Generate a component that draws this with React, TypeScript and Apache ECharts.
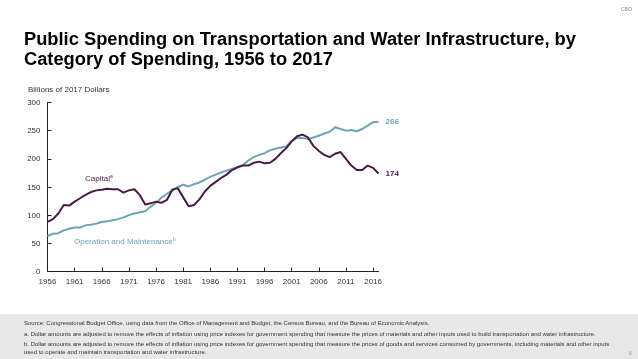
import React, { useEffect, useRef } from "react";
import * as echarts from "echarts";

const years: string[] = [];
for (let y = 1956; y <= 2017; y++) years.push(String(y));

const capital = [
  88, 93, 103, 118, 117, 124, 130, 136, 141, 144,
  145, 147, 146, 146, 140, 144, 146, 136, 119, 121,
  124, 122, 127, 145, 148, 132, 116, 118, 128, 142,
  152, 159, 166, 172, 180, 185, 188, 188, 193, 195,
  192, 193, 200, 210, 219, 231, 240, 243, 238, 223,
  214, 207, 203, 209, 212, 200, 188, 180, 180, 188,
  184, 174,
];

const operation = [
  63, 67, 68, 73, 76, 78, 78, 82, 83, 85,
  88, 89, 91, 93, 96, 100, 103, 105, 107, 115,
  122, 131, 138, 144, 150, 154, 151, 155, 158, 163,
  168, 172, 176, 179, 182, 185, 189, 197, 203, 207,
  210, 215, 218, 220, 222, 232, 237, 237, 235, 238,
  241, 245, 248, 256, 253, 250, 251, 249, 253, 259,
  265, 266,
];

const titleLines = [
  "Public Spending on Transportation and Water Infrastructure, by",
  "Category of Spending, 1956 to 2017",
];
const yAxisTitle = "Billions of 2017 Dollars";
const footnotes = [
  "Source: Congressional Budget Office, using data from the Office of Management and Budget, the Census Bureau, and the Bureau of Economic Analysis.",
  "a. Dollar amounts are adjusted to remove the effects of inflation using price indexes for government spending that measure the prices of materials and other inputs used to build transportation and water infrastructure.",
  "b. Dollar amounts are adjusted to remove the effects of inflation using price indexes for government spending that measure the prices of goods and services consumed by governments, including materials and other inputs",
  "used to operate and maintain transportation and water infrastructure.",
];

const CAP = "#4a1a45";
const OM = "#6ea5b6";
const FONT = "Liberation Sans, Arial, sans-serif";

export default function App() {
  const ref = useRef<HTMLDivElement>(null);
  useEffect(() => {
    if (!ref.current) return;
    const chart = echarts.init(ref.current, undefined, { renderer: "svg" });
    chart.setOption({
      animation: false,
      textStyle: { fontFamily: FONT },
      grid: { left: 47.5, right: 259.5, top: 102.5, bottom: 87.5, containLabel: false },
      xAxis: {
        type: "category",
        data: years,
        boundaryGap: false,
        axisLine: { lineStyle: { color: "#222", width: 1 } },
        axisTick: { inside: true, interval: 4, length: 4, lineStyle: { color: "#222" } },
        axisLabel: { interval: 4, color: "#333", fontSize: 8, margin: 6, fontFamily: FONT },
        splitLine: { show: false },
      },
      yAxis: {
        type: "value",
        min: 0,
        max: 300,
        interval: 50,
        axisLine: { show: true, lineStyle: { color: "#222", width: 1 } },
        axisTick: { show: true, inside: true, length: 4, lineStyle: { color: "#222" } },
        axisLabel: { color: "#333", fontSize: 8, margin: 7, fontFamily: FONT },
        splitLine: { show: false },
      },
      series: [
        {
          name: "Operation and Maintenance",
          type: "line",
          data: operation,
          symbol: "none",
          lineStyle: { color: OM, width: 2 },
          endLabel: {
            show: true,
            formatter: (p: any) => String(p.value),
            color: OM,
            fontSize: 8,
            fontWeight: "bold",
            distance: 7,
            fontFamily: FONT,
          },
          z: 2,
        },
        {
          name: "Capital",
          type: "line",
          data: capital,
          symbol: "none",
          lineStyle: { color: CAP, width: 2 },
          endLabel: {
            show: true,
            formatter: (p: any) => String(p.value),
            color: CAP,
            fontSize: 8,
            fontWeight: "bold",
            distance: 7,
            fontFamily: FONT,
          },
          z: 3,
        },
      ],
      graphic: [
        { type: "rect", shape: { x: 0, y: 314, width: 638, height: 45 }, style: { fill: "#e8e8e8" }, z: -1 },
        { type: "text", x: 621, y: 6, style: { text: "CBO", fill: "#888", fontSize: 5, fontFamily: FONT } },
        { type: "text", x: 24, y: 29, style: { text: titleLines[0], fill: "#000", fontSize: 18.3, fontWeight: "bold", fontFamily: FONT } },
        { type: "text", x: 24, y: 49, style: { text: titleLines[1], fill: "#000", fontSize: 18.3, fontWeight: "bold", fontFamily: FONT } },
        { type: "text", x: 28, y: 85, style: { text: yAxisTitle, fill: "#333", fontSize: 8, fontFamily: FONT } },
        { type: "text", x: 85, y: 174, style: { text: "Capital", fill: CAP, fontSize: 8, fontFamily: FONT } },
        { type: "text", x: 110, y: 173, style: { text: "a", fill: CAP, fontSize: 5, fontFamily: FONT } },
        { type: "text", x: 74, y: 237, style: { text: "Operation and Maintenance", fill: OM, fontSize: 8, fontFamily: FONT } },
        { type: "text", x: 173, y: 236, style: { text: "b", fill: OM, fontSize: 5, fontFamily: FONT } },
        { type: "text", x: 24, y: 320, style: { text: footnotes[0], fill: "#333", fontSize: 6, fontFamily: FONT } },
        { type: "text", x: 24, y: 331, style: { text: footnotes[1], fill: "#333", fontSize: 6, fontFamily: FONT } },
        { type: "text", x: 24, y: 341, style: { text: footnotes[2], fill: "#333", fontSize: 6, fontFamily: FONT } },
        { type: "text", x: 24, y: 349, style: { text: footnotes[3], fill: "#333", fontSize: 6, fontFamily: FONT } },
        { type: "text", x: 629, y: 350, style: { text: "6", fill: "#999", fontSize: 5, fontFamily: FONT } },
      ],
    });
    return () => chart.dispose();
  }, []);
  return <div ref={ref} style={{ width: 638, height: 359, position: "fixed", left: 0, top: 0 }} />;
}
